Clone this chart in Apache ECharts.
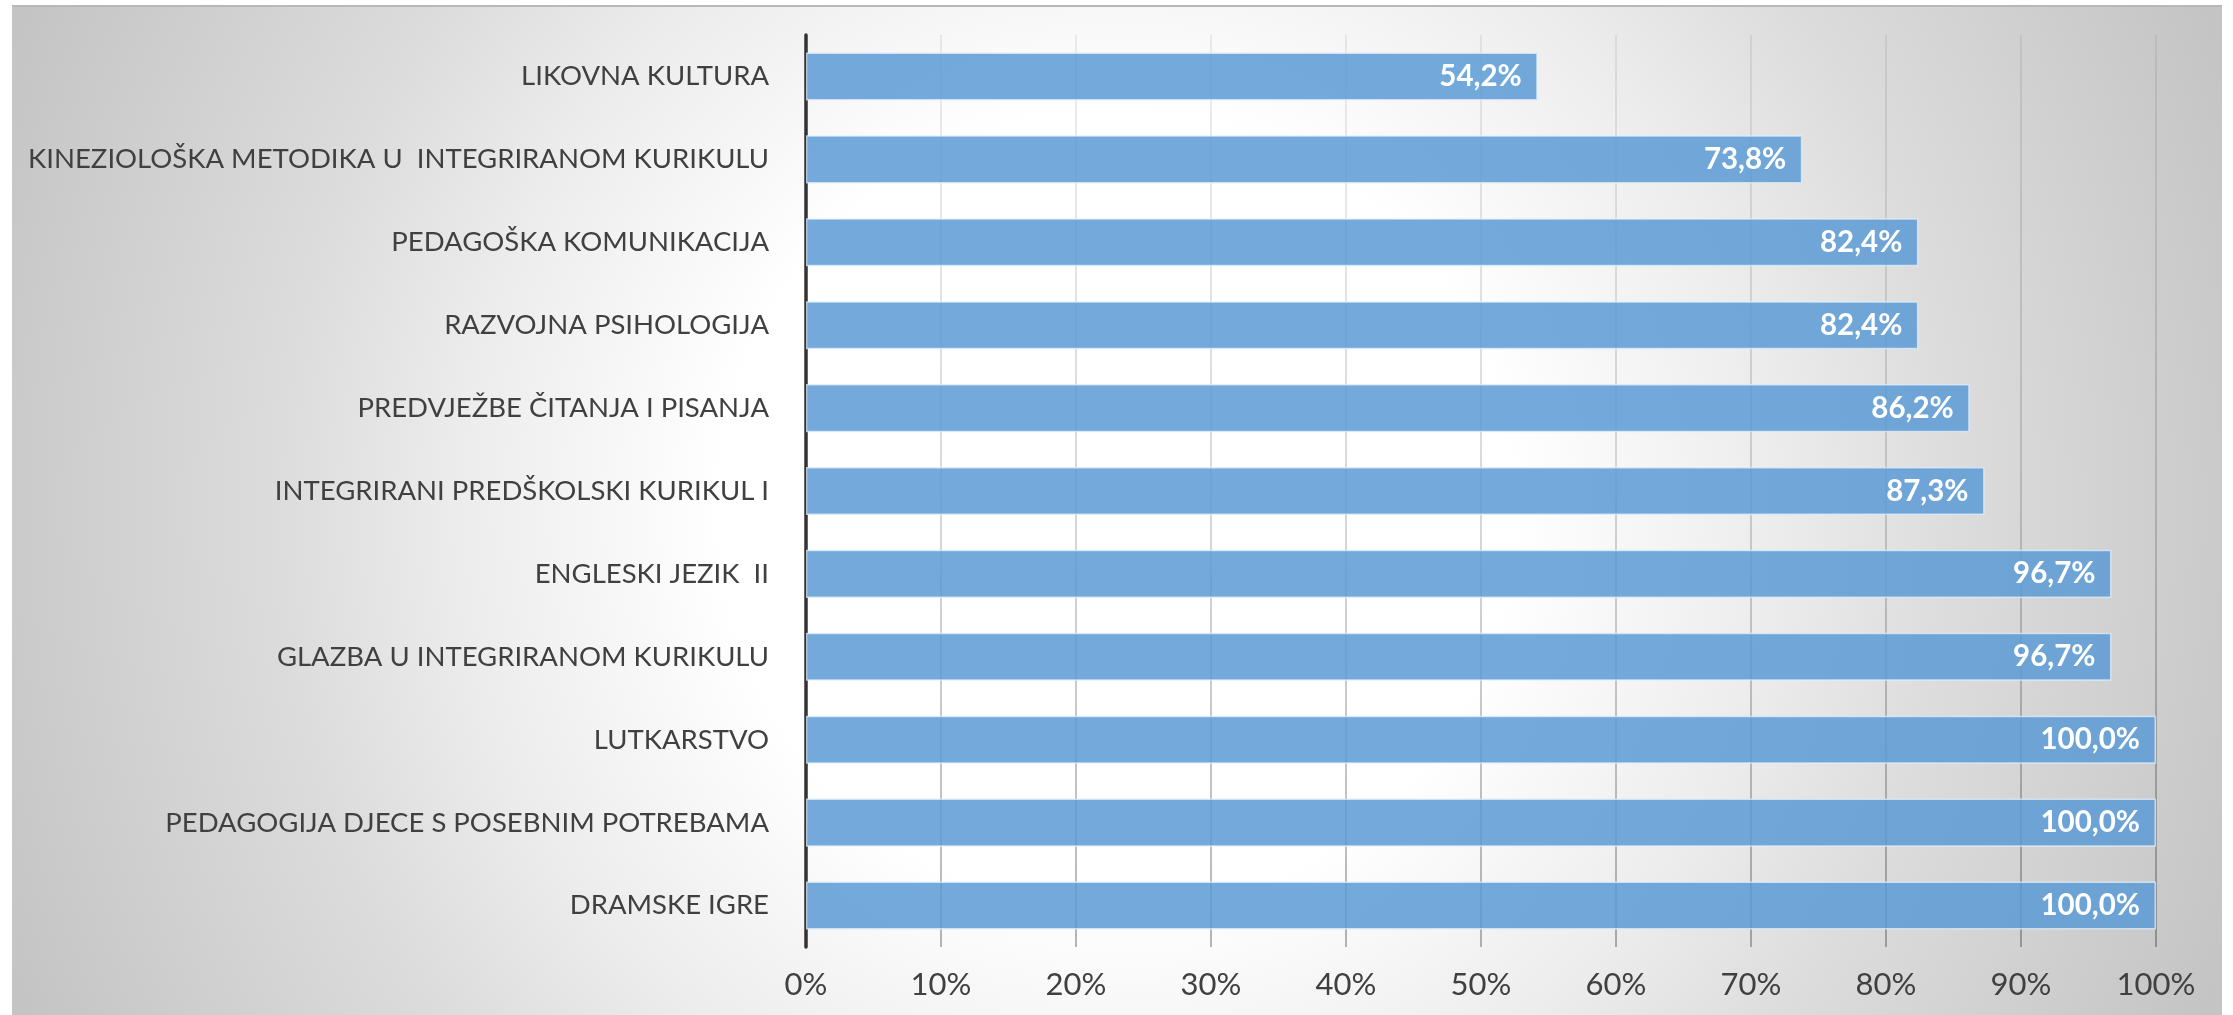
<!DOCTYPE html>
<html>
<head>
<meta charset="utf-8">
<script src="https://cdn.jsdelivr.net/npm/echarts@6/dist/echarts.min.js"></script>
<style>
html,body{margin:0;padding:0;background:#ffffff;}
#chart{width:2233px;height:1015px;}
</style>
</head>
<body>
<div id="chart"></div>
<script>
const categories = [
  'LIKOVNA KULTURA',
  'KINEZIOLOŠKA METODIKA U  INTEGRIRANOM KURIKULU',
  'PEDAGOŠKA KOMUNIKACIJA',
  'RAZVOJNA PSIHOLOGIJA',
  'PREDVJEŽBE ČITANJA I PISANJA',
  'INTEGRIRANI PREDŠKOLSKI KURIKUL I',
  'ENGLESKI JEZIK  II',
  'GLAZBA U INTEGRIRANOM KURIKULU',
  'LUTKARSTVO',
  'PEDAGOGIJA DJECE S POSEBNIM POTREBAMA',
  'DRAMSKE IGRE'
];
const values = [54.2, 73.8, 82.4, 82.4, 86.2, 87.3, 96.7, 96.7, 100.0, 100.0, 100.0];
const axisMin = 0;
const axisMax = 100;
const axisStep = 10;

const FONT = "Lato, 'Open Sans', sans-serif";
const chart = echarts.init(document.getElementById('chart'), null, {renderer: 'canvas'});

const option = {
  backgroundColor: '#ffffff',
  animation: false,
  graphic: {
    elements: [
      {
        type: 'rect',
        z: -10,
        silent: true,
        shape: {x: 12, y: 6, width: 2210, height: 1009},
        style: {
          fill: new echarts.graphic.RadialGradient(1117, 510, 1200, [
            {offset: 0, color: '#ffffff'},
            {offset: 0.33, color: '#ffffff'},
            {offset: 0.55, color: '#ececec'},
            {offset: 0.7, color: '#dcdcdc'},
            {offset: 1, color: '#c4c4c4'}
          ], true)
        }
      },
      {
        type: 'line',
        z: -9,
        silent: true,
        shape: {x1: 12, y1: 6, x2: 2222, y2: 6},
        style: {stroke: '#b8b8b8', lineWidth: 2}
      }
    ]
  },
  grid: {left: 806, right: 77, top: 35, bottom: 68, containLabel: false},
  xAxis: {
    type: 'value',
    min: axisMin,
    max: axisMax,
    interval: axisStep,
    axisLine: {show: false},
    axisTick: {show: false},
    axisLabel: {
      formatter: '{value}%',
      color: '#404040',
      fontFamily: FONT,
      fontSize: 31,
      margin: 22
    },
    splitLine: {
      show: true,
      lineStyle: {
        width: 1.5,
        color: new echarts.graphic.LinearGradient(0, 35, 0, 947, [
          {offset: 0, color: 'rgba(0,0,0,0.09)'},
          {offset: 0.5, color: 'rgba(0,0,0,0.2)'},
          {offset: 1, color: 'rgba(0,0,0,0.38)'}
        ], true)
      }
    }
  },
  yAxis: {
    type: 'category',
    data: categories,
    inverse: true,
    axisLine: {show: true, lineStyle: {color: '#333333', width: 3.5}},
    axisTick: {show: false},
    axisLabel: {
      color: '#404040',
      fontFamily: FONT,
      fontSize: 27.5,
      margin: 37
    },
    splitLine: {show: false}
  },
  series: [{
    type: 'bar',
    data: values,
    barCategoryGap: '42%',
    itemStyle: {
      color: 'rgba(91,155,213,0.85)',
      borderColor: 'rgba(225,238,250,0.75)',
      borderWidth: 1.5
    },
    label: {
      show: true,
      position: 'insideRight',
      distance: 16,
      color: '#ffffff',
      fontFamily: FONT,
      fontWeight: 'bold',
      fontSize: 29.5,
      formatter: function (p) { return p.value.toFixed(1).replace('.', ',') + '%'; }
    }
  }]
};
chart.setOption(option);
</script>
</body>
</html>
